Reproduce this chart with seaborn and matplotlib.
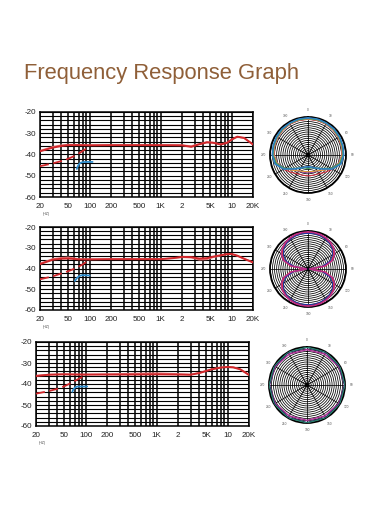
import numpy as np
import pandas as pd
import matplotlib
matplotlib.use("Agg")
import matplotlib.pyplot as plt
import seaborn as sns

sns.set_theme(style="white")
plt.rcParams['font.family'] = ['Liberation Sans', 'DejaVu Sans']

# ---------------- data ----------------
x_ticks = [20, 50, 100, 200, 500, 1000, 2000, 5000, 10000, 20000]
x_tick_labels = ["20", "50", "100", "200", "500", "1K", "2", "5K", "10", "20K"]
y_ticks = [-20, -30, -40, -50, -60]

f1 = [20, 30, 40, 50, 70, 100, 200, 500, 1000, 2000, 2700, 3500, 4500, 5500, 7000, 8500, 10000, 12000, 15000, 20000]
main1 = [-38.5, -36.8, -36.0, -35.6, -35.6, -35.7, -35.6, -35.6, -35.6, -35.7, -36.4, -35.2, -34.3, -34.5, -35.3, -34.6, -33.0, -31.6, -32.2, -35.3]
alt1 = [-38.2, -36.4, -35.6, -35.3, -35.4, -35.6, -35.6, -35.6, -35.6, -35.6, -36.0, -35.0, -34.1, -34.4, -35.1, -34.5, -33.0, -31.7, -32.3, -35.2]
fd1 = [20, 30, 40, 50, 60, 70, 80, 90, 100]
dash1 = [-45.5, -44.2, -43.1, -42.0, -40.8, -39.6, -38.3, -37.2, -36.2]
fb1 = [66, 68, 70, 73, 76, 80, 90, 100, 110]
blue1 = [-46.8, -45.6, -44.8, -44.1, -43.8, -43.6, -43.5, -43.5, -43.5]

f2 = [20, 30, 40, 50, 60, 70, 100, 200, 500, 1000, 1500, 2000, 2700, 3500, 4500, 5500, 7000, 8500, 10000, 12000, 15000, 20000]
main2 = [-37.9, -35.8, -35.3, -35.2, -35.4, -35.6, -35.6, -35.5, -35.5, -35.5, -35.0, -34.4, -34.5, -35.2, -35.0, -34.3, -33.6, -33.1, -33.0, -33.8, -35.3, -37.1]
alt2 = [-37.6, -35.4, -34.8, -34.6, -35.0, -35.5, -35.6, -35.5, -35.5, -35.5, -35.0, -34.6, -34.8, -35.8, -35.6, -34.6, -33.8, -33.2, -33.1, -33.9, -35.3, -37.0]
fd2 = [20, 30, 40, 50, 60, 70, 80, 90, 100]
dash2 = [-45.2, -43.8, -42.4, -41.3, -40.2, -39.1, -38.0, -36.8, -35.6]
fb2 = [62, 65, 68, 72, 76, 80, 90, 100]
blue2 = [-46.0, -45.0, -44.2, -43.6, -43.3, -43.2, -43.3, -43.4]

f3 = [20, 30, 50, 70, 100, 200, 500, 1000, 2000, 3000, 4000, 5000, 6000, 8000, 10000, 12000, 15000, 20000]
main3 = [-36.2, -35.6, -35.4, -35.5, -35.5, -35.5, -35.5, -35.4, -35.5, -35.6, -34.8, -33.8, -33.0, -32.2, -31.9, -32.1, -33.0, -35.7]
alt3 = [-36.0, -35.5, -35.3, -35.4, -35.5, -35.3, -35.0, -34.8, -35.2, -35.5, -34.7, -33.7, -32.9, -32.1, -31.8, -32.0, -32.9, -35.6]
fd3 = [20, 30, 40, 50, 60, 70, 80, 90, 100]
dash3 = [-44.6, -43.4, -42.3, -41.1, -39.8, -38.6, -37.5, -36.7, -36.1]
fb3 = [65, 67, 70, 73, 77, 85, 95, 105]
blue3 = [-43.7, -42.6, -41.9, -41.4, -41.2, -41.2, -41.2, -41.2]

# polar patterns (radius fraction), angles every 15 deg (clockwise from top)
ang15 = list(range(0, 361, 15))
card_blue = [0.98, 0.98, 0.97, 0.97, 0.96, 0.95, 0.94, 0.90, 0.74, 0.52, 0.40, 0.33, 0.31,
             0.33, 0.40, 0.52, 0.74, 0.90, 0.94, 0.95, 0.96, 0.97, 0.97, 0.98, 0.98]
card_green = [0.96, 0.96, 0.96, 0.95, 0.94, 0.93, 0.92, 0.86, 0.70, 0.50, 0.39, 0.35, 0.36,
              0.35, 0.39, 0.50, 0.70, 0.86, 0.92, 0.93, 0.94, 0.95, 0.96, 0.96, 0.96]
card_orange = [0.95, 0.95, 0.95, 0.94, 0.93, 0.92, 0.90, 0.84, 0.72, 0.57, 0.48, 0.45, 0.44,
               0.45, 0.48, 0.57, 0.72, 0.84, 0.90, 0.92, 0.93, 0.94, 0.95, 0.95, 0.95]
card_red = [0.94, 0.94, 0.94, 0.93, 0.92, 0.91, 0.89, 0.84, 0.75, 0.64, 0.57, 0.55, 0.55,
            0.55, 0.57, 0.64, 0.75, 0.84, 0.89, 0.91, 0.92, 0.93, 0.94, 0.94, 0.94]
card_purple = [0.95, 0.95, 0.95, 0.94, 0.93, 0.92, 0.90, 0.83, 0.70, 0.56, 0.49, 0.47, 0.47,
               0.47, 0.49, 0.56, 0.70, 0.83, 0.90, 0.92, 0.93, 0.94, 0.95, 0.95, 0.95]

ang10 = list(range(0, 361, 10))
fig8_mag = [0.98, 0.98, 0.97, 0.95, 0.92, 0.88, 0.81, 0.70, 0.46, 0.04, 0.46, 0.70, 0.81, 0.88, 0.92, 0.95, 0.97, 0.98, 0.98,
            0.98, 0.97, 0.95, 0.92, 0.88, 0.81, 0.70, 0.46, 0.04, 0.46, 0.70, 0.81, 0.88, 0.92, 0.95, 0.97, 0.98, 0.98]
fig8_red = [0.96, 0.96, 0.95, 0.93, 0.90, 0.86, 0.79, 0.68, 0.44, 0.04, 0.44, 0.68, 0.79, 0.86, 0.90, 0.93, 0.95, 0.96, 0.96,
            0.96, 0.95, 0.93, 0.90, 0.86, 0.79, 0.68, 0.44, 0.04, 0.44, 0.68, 0.79, 0.86, 0.90, 0.93, 0.95, 0.96, 0.96]
fig8_orange = [0.95, 0.95, 0.94, 0.92, 0.89, 0.85, 0.78, 0.67, 0.48, 0.06, 0.48, 0.67, 0.78, 0.85, 0.89, 0.92, 0.94, 0.95, 0.95,
               0.95, 0.94, 0.92, 0.89, 0.85, 0.78, 0.67, 0.48, 0.06, 0.48, 0.67, 0.78, 0.85, 0.89, 0.92, 0.94, 0.95, 0.95]
fig8_blue = [0.94, 0.94, 0.93, 0.91, 0.88, 0.83, 0.75, 0.62, 0.38, 0.03, 0.38, 0.62, 0.75, 0.83, 0.88, 0.91, 0.93, 0.94, 0.94,
             0.94, 0.93, 0.91, 0.88, 0.83, 0.75, 0.62, 0.38, 0.03, 0.38, 0.62, 0.75, 0.83, 0.88, 0.91, 0.93, 0.94, 0.94]

ang30 = list(range(0, 361, 30))
omni_green = [1.0] * 13
omni_navy = [0.99] * 13
omni_purple = [0.93, 0.94, 0.97, 0.99, 0.97, 0.94, 0.93, 0.94, 0.97, 0.99, 0.97, 0.94, 0.93]

polar_labels = ["0", "30", "60", "90", "120", "150", "180", "210", "240", "270", "300", "330"]

RED = "#d0262a"
PINK = "#e6797a"
BLUE = "#2f8fd0"

# ---------------- figure ----------------
W, H = 386, 511
fig = plt.figure(figsize=(W / 100, H / 100), dpi=100)
fig.patch.set_facecolor("white")

fig.text(24 / W, 1 - 73 / H, "Frequency Response Graph", fontsize=15.8,
         color="#8f5f38", ha="left", va="center")


def px_axes(left, top, right, bottom, **kw):
    return fig.add_axes([left / W, 1 - bottom / H, (right - left) / W, (bottom - top) / H], **kw)


def freq_panel(ax, f, main, alt, fd, dash, fb, blue):
    sns.lineplot(x=f, y=alt, ax=ax, color=PINK, lw=1.1, sort=False, zorder=3)
    sns.lineplot(x=f, y=main, ax=ax, color=RED, lw=1.4, sort=False, zorder=4)
    sns.lineplot(x=fd, y=dash, ax=ax, color=RED, lw=1.3, sort=False, zorder=4,
                 dashes=False, linestyle=(0, (5, 2.5)))
    sns.lineplot(x=fb, y=blue, ax=ax, color=BLUE, lw=1.3, sort=False, zorder=4)
    ax.set_xscale("log")
    ax.set_xlim(20, 20000)
    ax.set_ylim(-60, -20)
    ax.set_xticks(x_ticks)
    ax.set_xticklabels(x_tick_labels)
    minor = [30, 40, 60, 70, 80, 90, 300, 400, 600, 700, 800, 900,
             3000, 4000, 6000, 7000, 8000, 9000]
    ax.set_xticks(minor, minor=True)
    ax.set_yticks(y_ticks)
    ax.set_yticklabels([str(v) for v in y_ticks])
    ax.set_yticks(list(range(-58, -20, 2)), minor=True)
    ax.xaxis.grid(True, which="both", color="black", lw=1.1)
    ax.yaxis.grid(True, which="both", color="black", lw=0.8)
    ax.tick_params(axis="both", which="both", length=0, labelsize=5.8, colors="#222222")
    ax.tick_params(axis="x", pad=4.5)
    ax.tick_params(axis="y", pad=3)
    ax.set_xlabel("")
    ax.set_ylabel("")
    for s in ax.spines.values():
        s.set_visible(True)
        s.set_color("black")
        s.set_linewidth(1.1)
    ax.set_axisbelow(True)
    ax.text(0.03, -0.2, "(HZ)", transform=ax.transAxes, fontsize=2.5, color="#444444",
            ha="center", va="center")


def polar_panel(ax, curves):
    for ang, r, col, lw in curves:
        sns.lineplot(x=np.deg2rad(ang), y=r, ax=ax, color=col, lw=lw, sort=False, zorder=4)
    ax.set_theta_zero_location("N")
    ax.set_theta_direction(-1)
    ax.set_ylim(0, 1.0)
    rings = [0.015, 0.03, 0.045] + [round(0.055 * i, 3) for i in range(1, 19)]
    ax.set_yticks(rings)
    ax.set_yticklabels([])
    ax.set_thetagrids(list(range(0, 360, 30)), labels=polar_labels, fontsize=2.3,
                      color="#555555")
    ax.tick_params(axis="both", which="both", length=0)
    ax.tick_params(axis="x", pad=-2.0)
    ax.grid(True, color="black", lw=0.55)
    ax.spines["polar"].set_color("black")
    ax.spines["polar"].set_linewidth(1.3)
    ax.set_xlabel("")
    ax.set_ylabel("")
    ax.set_facecolor("white")


ax1 = px_axes(40, 112, 253, 197)
freq_panel(ax1, f1, main1, alt1, fd1, dash1, fb1, blue1)
ax2 = px_axes(40, 227, 253, 310)
freq_panel(ax2, f2, main2, alt2, fd2, dash2, fb2, blue2)
ax3 = px_axes(36, 342, 249, 426)
freq_panel(ax3, f3, main3, alt3, fd3, dash3, fb3, blue3)

p1 = px_axes(270, 117, 346, 193, projection="polar")
polar_panel(p1, [
    (ang15, card_red, "#d03040", 0.8),
    (ang15, card_purple, "#8a3aa0", 0.8),
    (ang15, card_orange, "#e8a040", 0.8),
    (ang15, card_green, "#3aa060", 0.8),
    (ang15, card_blue, "#2f7fc0", 1.2),
])
p2 = px_axes(270, 231, 346, 307, projection="polar")
polar_panel(p2, [
    (ang10, fig8_orange, "#f0a030", 0.9),
    (ang10, fig8_red, "#d03030", 0.9),
    (ang10, fig8_blue, "#2030a0", 0.8),
    (ang10, fig8_mag, "#c02a8a", 1.0),
])
p3 = px_axes(269, 347, 345, 423, projection="polar")
polar_panel(p3, [
    (ang30, omni_purple, "#b0309a", 1.0),
    (ang30, omni_navy, "#1a1a60", 1.0),
    (ang30, omni_green, "#2a8a6a", 0.8),
])

fig.savefig("out.png", dpi=100, facecolor="white")
